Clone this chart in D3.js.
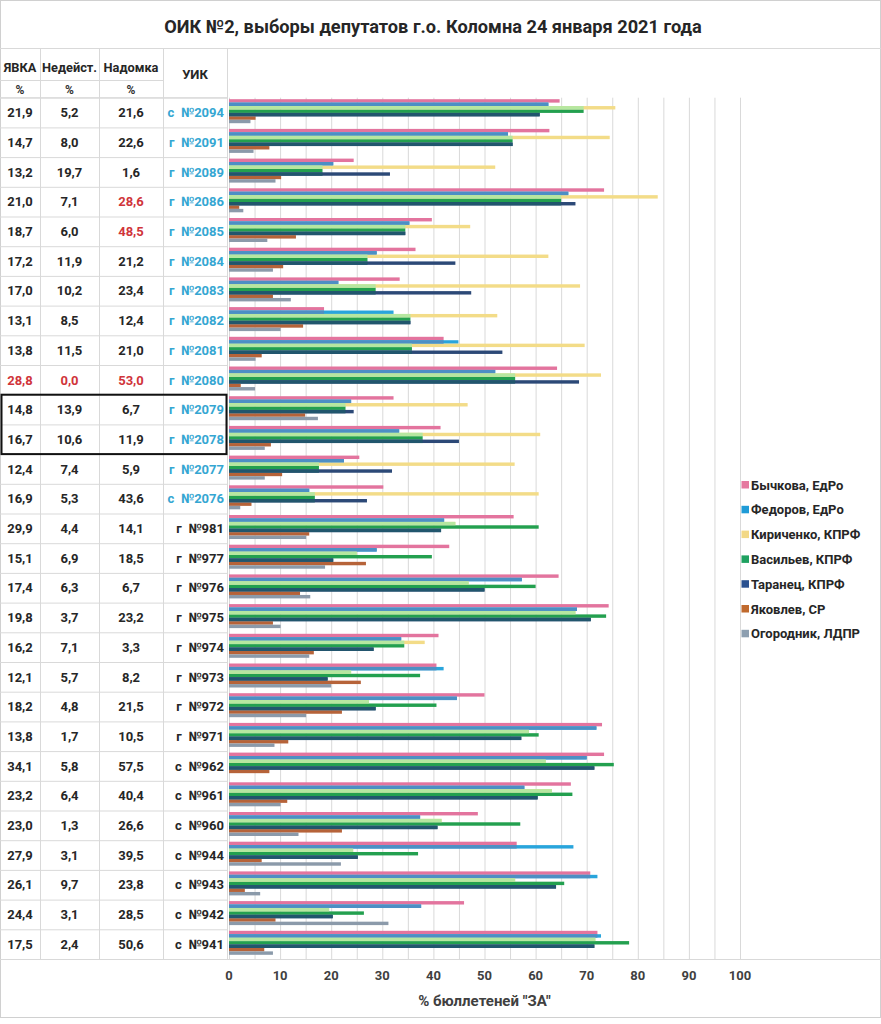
<!DOCTYPE html>
<html><head><meta charset="utf-8">
<script src="https://cdn.jsdelivr.net/npm/d3@7"></script>
<style>body{margin:0;background:#fff}svg{display:block}text{font-family:Roboto,"Open Sans",sans-serif;font-weight:700}</style>
</head><body><svg id="c" width="881" height="1024"></svg>
<script>
const title = "ОИК №2, выборы депутатов г.о. Коломна 24 января 2021 года";
const uik = ["с №2094","г №2091","г №2089","г №2086","г №2085","г №2084","г №2083","г №2082","г №2081","г №2080","г №2079","г №2078","г №2077","с №2076","г №981","г №977","г №976","г №975","г №974","г №973","г №972","г №971","с №962","с №961","с №960","с №944","с №943","с №942","с №941"];
const yavka   = [21.9,14.7,13.2,21.0,18.7,17.2,17.0,13.1,13.8,28.8,14.8,16.7,12.4,16.9,29.9,15.1,17.4,19.8,16.2,12.1,18.2,13.8,34.1,23.2,23.0,27.9,26.1,24.4,17.5];
const nedeist = [5.2,8.0,19.7,7.1,6.0,11.9,10.2,8.5,11.5,0.0,13.9,10.6,7.4,5.3,4.4,6.9,6.3,3.7,7.1,5.7,4.8,1.7,5.8,6.4,1.3,3.1,9.7,3.1,2.4];
const nadomka = [21.6,22.6,1.6,28.6,48.5,21.2,23.4,12.4,21.0,53.0,6.7,11.9,5.9,43.6,14.1,18.5,6.7,23.2,3.3,8.2,21.5,10.5,57.5,40.4,26.6,39.5,23.8,28.5,50.6];
const flagged = [["nadomka","г №2086"],["nadomka","г №2085"],["yavka","г №2080"],["nedeist","г №2080"],["nadomka","г №2080"]];
const boxed = ["г №2079","г №2078"];

const seriesNames = ["Бычкова, ЕдРо","Федоров, ЕдРо","Кириченко, КПРФ","Васильев, КПРФ","Таранец, КПРФ","Яковлев, СР","Огородник, ЛДПР"];
const bychkova   = [64.7,62.7,24.4,73.4,39.7,36.5,33.4,18.6,42.0,64.2,32.2,41.4,25.5,30.2,55.7,43.1,64.5,74.3,41.0,40.6,50.0,73.0,73.4,66.9,48.7,56.3,70.7,46.0,72.1];
const fedorov    = [62.5,54.6,20.4,66.4,35.3,28.9,21.4,32.2,44.9,52.1,23.9,33.3,22.5,15.7,42.1,28.9,57.3,68.1,33.7,42.0,44.6,71.9,70.0,57.8,37.4,67.4,72.1,37.6,72.8];
const kirichenko = [75.6,74.5,52.1,83.9,47.2,62.5,68.7,52.5,69.6,72.8,46.7,60.9,55.9,60.6,44.3,25.0,46.9,67.8,38.3,23.9,27.4,58.7,62.0,63.2,41.6,24.3,56.0,19.6,71.7];
const vasiliev   = [69.4,55.5,18.3,65.0,34.5,27.1,28.7,35.5,35.8,56.0,22.8,37.9,17.6,16.8,60.6,39.7,60.0,73.8,34.3,37.4,40.6,60.6,75.3,67.2,57.0,37.0,65.6,26.4,78.3];
const taranets   = [60.8,55.5,31.5,67.8,34.5,44.3,47.4,35.5,53.5,68.5,24.4,45.0,31.9,27.0,41.5,20.4,50.0,70.8,28.3,19.3,28.7,57.2,71.5,60.4,40.8,25.2,64.0,20.3,71.5];
const yakovlev   = [5.2,7.9,10.2,2.0,13.1,10.6,8.6,14.5,6.4,2.3,14.9,8.2,10.4,4.4,15.7,26.8,13.9,8.6,16.6,25.8,22.1,11.6,7.9,11.4,22.1,6.4,3.1,9.1,6.9];
const ogorodnik  = [4.2,4.8,9.1,2.8,7.5,8.6,12.1,10.1,5.2,5.1,17.4,7.0,7.0,2.2,15.1,18.8,15.9,10.1,15.7,20.0,15.1,8.9,0,10.1,13.6,21.9,6.1,31.2,8.6];
const xTicks = [0,10,20,30,40,50,60,70,80,90,100];
const xTitle = '% бюллетеней "ЗА"';

const seriesValues = [bychkova,fedorov,kirichenko,vasiliev,taranets,yakovlev,ogorodnik];
const barColors = ["#e3749e","#29a5dc","#f3dc88","#23a04f","#2c4977","#b66339","#8b9aaa"];
const legendColors = ["#e5799f","#1f9bd7","#f2d886","#1fa160","#2b5190","#c06a2e","#8d9fb0"];
// overlap tints: [slot, partner, colour]
const overlaps = [[1,0,"#4d8fc4"],[2,3,"#b6e7a0"],[4,3,"#21566d"]];

const svg = d3.select("#c");
const W = 881, H = 1024;
const top0 = 97.7, bot0 = 959;
const plotL = 229, plotR = 740;
const grid = "#d9d9d9";

svg.append("rect").attr("x",0.5).attr("y",0.5).attr("width",W-1).attr("height",H-7).attr("fill","#fff").attr("stroke","#d0d0d0");

svg.append("text").attr("x",433).attr("y",33).attr("text-anchor","middle").attr("font-size",18.2).attr("fill","#262626").text(title);
svg.append("line").attr("x1",0).attr("x2",W).attr("y1",48.5).attr("y2",48.5).attr("stroke",grid);

const y = d3.scaleBand().domain(uik).range([top0,bot0]).paddingInner(0).paddingOuter(0);
const ys = d3.scaleBand().domain(d3.range(7)).range([1.5,25.5]);
const x = d3.scaleLinear().domain([0,100]).range([plotL,plotR]);

// gridlines
svg.append("g").selectAll("line").data(d3.range(0,101,5)).join("line")
  .attr("x1",d=>x(d)+0.5).attr("x2",d=>x(d)+0.5).attr("y1",top0).attr("y2",bot0).attr("stroke",grid);

// table
const cols = [{k:"yavka",vals:yavka,cx:20,h:"ЯВКА"},{k:"nedeist",vals:nedeist,cx:69.5,h:"Недейст."},{k:"nadomka",vals:nadomka,cx:131,h:"Надомка"}];
const tbl = svg.append("g");
[40,99,163,227].forEach(xx=>tbl.append("line").attr("x1",xx+0.5).attr("x2",xx+0.5).attr("y1",48).attr("y2",bot0).attr("stroke",grid));
tbl.append("line").attr("x1",0).attr("x2",163).attr("y1",80.5).attr("y2",80.5).attr("stroke",grid);
tbl.selectAll("line.r").data(uik.concat(["__end"])).join("line").attr("class","r")
  .attr("x1",0).attr("x2",227).attr("y1",(d,i)=>(i<uik.length?y(d):bot0)+0.5).attr("y2",(d,i)=>(i<uik.length?y(d):bot0)+0.5).attr("stroke",grid);
tbl.append("line").attr("x1",0).attr("x2",227).attr("y1",top0).attr("y2",top0).attr("stroke",grid);
svg.append("line").attr("x1",0).attr("x2",W).attr("y1",bot0+0.5).attr("y2",bot0+0.5).attr("stroke",grid);

cols.forEach(c=>{
  tbl.append("text").attr("x",c.cx).attr("y",71.5).attr("text-anchor","middle").attr("font-size",12.8).attr("fill","#262626").text(c.h);
  tbl.append("text").attr("x",c.cx).attr("y",93.5).attr("text-anchor","middle").attr("font-size",12).attr("fill","#333").text("%");
  tbl.selectAll(null).data(c.vals).join("text")
    .attr("x",c.cx).attr("y",(d,i)=>y(uik[i])+y.bandwidth()/2+4.7).attr("text-anchor","middle").attr("font-size",13)
    .attr("fill",(d,i)=>flagged.some(f=>f[0]===c.k&&f[1]===uik[i])?"#d0343a":"#262626")
    .text(d=>d3.format(".1f")(d).replace(".",","));
});
tbl.append("text").attr("x",195).attr("y",78.5).attr("text-anchor","middle").attr("font-size",13).attr("fill","#262626").text("УИК");
tbl.selectAll(null).data(uik).join("text")
  .attr("x",224).attr("y",d=>y(d)+y.bandwidth()/2+4.7).attr("text-anchor","end").attr("font-size",13)
  .attr("fill",d=>/№2\d{3}/.test(d)?"#35a6d2":"#262626")
  .text(d=>d.replace(" ","\u2002"));
const bx = y(boxed[0]), bh = y(boxed[1])+y.bandwidth()-bx;
tbl.append("rect").attr("x",1.5).attr("y",bx).attr("width",225).attr("height",bh).attr("fill","none").attr("stroke","#111").attr("stroke-width",2);

// bars
const bars = svg.append("g");
uik.forEach((u,i)=>{
  seriesValues.forEach((vals,s)=>{
    bars.append("rect").attr("x",x(0)).attr("y",y(u)+ys(s)).attr("width",Math.max(0,x(vals[i])-x(0))).attr("height",ys.bandwidth()).attr("fill",barColors[s]);
  });
  overlaps.forEach(([s,p,col])=>{
    const v = Math.min(seriesValues[s][i],seriesValues[p][i]);
    bars.append("rect").attr("x",x(0)).attr("y",y(u)+ys(s)).attr("width",Math.max(0,x(v)-x(0))).attr("height",ys.bandwidth()).attr("fill",col);
  });
});

// x axis labels
svg.append("g").selectAll("text").data(xTicks).join("text")
  .attr("x",d=>x(d)).attr("y",980).attr("text-anchor","middle").attr("font-size",13).attr("fill","#404040").text(d=>d);
svg.append("text").attr("x",x(50)).attr("y",1006).attr("text-anchor","middle").attr("font-size",15).attr("fill","#404040").text(xTitle);

// legend
const lg = svg.append("g");
seriesNames.forEach((n,i)=>{
  const yy = 485 + i*24.8;
  lg.append("rect").attr("x",741.5).attr("y",yy-4).attr("width",7.5).attr("height",7.5).attr("fill",legendColors[i]);
  lg.append("text").attr("x",751).attr("y",yy+4.5).attr("font-size",13).attr("fill","#262626").text(n);
});
</script></body></html>
